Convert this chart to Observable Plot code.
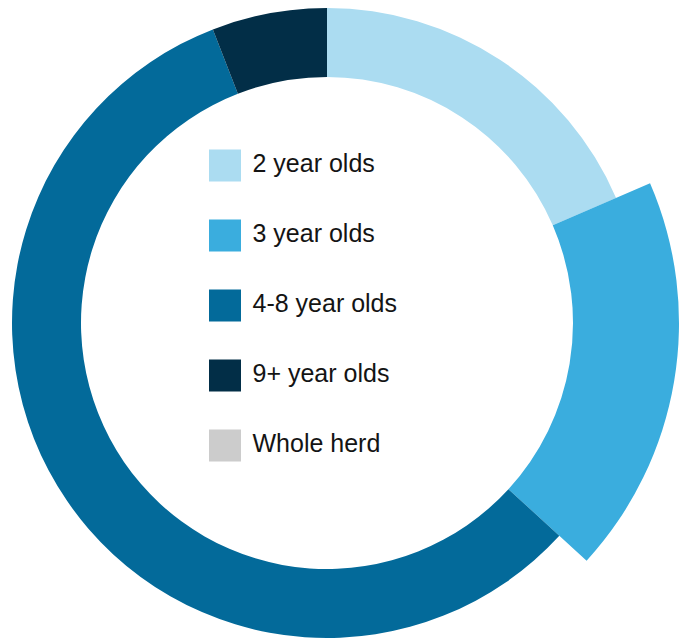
<!DOCTYPE html>
<html>
<head>
<meta charset="utf-8">
<script src="https://cdn.jsdelivr.net/npm/d3@7"></script>
<script src="https://cdn.jsdelivr.net/npm/@observablehq/plot@0.6"></script>
<style>
  html, body { margin: 0; padding: 0; background: #ffffff; }
  #chart { width: 680px; height: 642px; }
  svg { display: block; }
</style>
</head>
<body>
<div id="chart"></div>
<script>
// ---- Data ----
const groups = ["2 year olds", "3 year olds", "4-8 year olds", "9+ year olds", "Whole herd"];
const shares = [18.5, 18.3, 57.3, 5.9, null];   // percent of herd; "Whole herd" has no slice
const colors = ["#abdcf1", "#3aadde", "#036a9a", "#022e47", "#cccccc"];
const highlighted = "3 year olds";               // slice drawn pulled out (larger outer radius)

const rows = groups.map((g, i) => ({group: g, value: shares[i]}));
const slices = rows.filter(d => d.value != null);

// ---- Layout ----
const W = 680, H = 642;
const cx = 327, cy = 323;
const rInner = 246, rOuter = 315, rOuterHi = 352;

function donut(index, scales, values, dimensions, context) {
  const pie = d3.pie().sort(null).value(d => d.value);
  const g = d3.create("svg:g").attr("transform", `translate(${cx},${cy})`);
  g.selectAll("path")
    .data(pie(slices))
    .join("path")
    .attr("fill", d => scales.color(d.data.group))
    .attr("d", d => d3.arc()
      .innerRadius(rInner)
      .outerRadius(d.data.group === highlighted ? rOuterHi : rOuter)(d));
  return g.node();
}

const plot = Plot.plot({
  width: W,
  height: H,
  margin: 0,
  style: {background: "#ffffff", fontFamily: "'Liberation Sans', Arial, sans-serif"},
  x: {domain: [0, W], range: [0, W], axis: null},
  y: {type: "point", domain: groups, range: [164, 445], padding: 0, axis: null},
  color: {domain: groups, range: colors},
  marks: [
    donut,
    Plot.dot(groups, {x: () => 224.5, y: d => d, fill: d => d, symbol: "square", r: 18.05, stroke: null}),
    Plot.text(groups, {x: () => 252, y: d => d, text: d => d, textAnchor: "start", fontSize: 25, fill: "#141414", dy: -2})
  ]
});

document.getElementById("chart").appendChild(plot);
</script>
</body>
</html>
